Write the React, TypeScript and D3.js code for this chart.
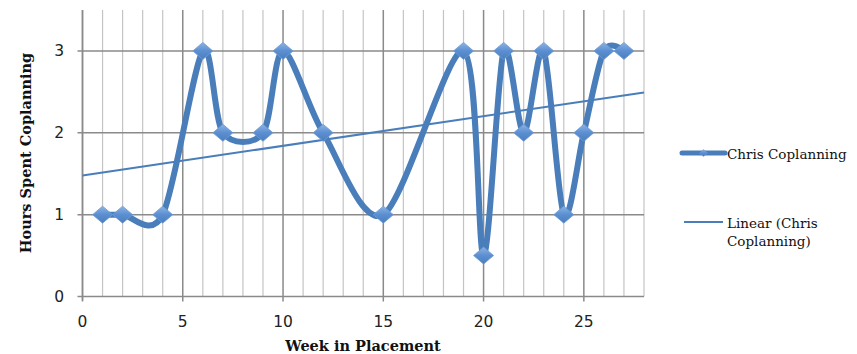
import React from "react";
import * as d3 from "d3";

const weeks = [1, 2, 4, 6, 7, 9, 10, 12, 15, 19, 20, 21, 22, 23, 24, 25, 26, 27];
const hours = [1, 1, 1, 3, 2, 2, 3, 2, 1, 3, 0.5, 3, 2, 3, 1, 2, 3, 3];
const xTicks = [0, 5, 10, 15, 20, 25];
const yTicks = [0, 1, 2, 3];
const seriesName = "Chris Coplanning";
const trendName1 = "Linear (Chris";
const trendName2 = "Coplanning)";

const W = 857;
const H = 354;
const left = 82.5;
const right = 644;
const top = 10;
const bottom = 296.5;
const blue = "#4a7ebb";

export default function App() {
  const x = d3.scaleLinear().domain([0, 28]).range([left, right]);
  const y = d3.scaleLinear().domain([0, 3.5]).range([bottom, top]);
  const pts: [number, number][] = weeks.map((w, i) => [w, hours[i]]);

  const line = d3
    .line<[number, number]>()
    .x((d) => x(d[0]))
    .y((d) => y(d[1]))
    .curve(d3.curveCardinal.tension(0.1));

  const n = weeks.length;
  const mx = d3.mean(weeks)!;
  const my = d3.mean(hours)!;
  let sxy = 0;
  let sxx = 0;
  for (let i = 0; i < n; i++) {
    sxy += (weeks[i] - mx) * (hours[i] - my);
    sxx += (weeks[i] - mx) ** 2;
  }
  const slope = sxy / sxx;
  const icpt = my - slope * mx;

  const minor = d3.range(0, 29);
  const diamond = (cx: number, cy: number, w: number, h: number) =>
    `M${cx},${cy - h / 2}L${cx + w / 2},${cy}L${cx},${cy + h / 2}L${cx - w / 2},${cy}Z`;

  const tickFont = "'DejaVu Sans', sans-serif";
  const serif = "'DejaVu Serif', serif";

  return (
    <svg width={W} height={H} style={{ position: "absolute", left: 0, top: 0, background: "#fff" }}>
      <defs>
        <linearGradient id="mk" x1="0" y1="0" x2="0" y2="1">
          <stop offset="0" stopColor="#8db3e2" />
          <stop offset="0.5" stopColor="#5b8fd2" />
          <stop offset="1" stopColor="#4a7ebb" />
        </linearGradient>
      </defs>
      {/* vertical grid */}
      {minor.map((v) => (
        <line
          key={"mv" + v}
          x1={x(v)}
          x2={x(v)}
          y1={top}
          y2={bottom}
          stroke={v % 5 === 0 ? "#8a8a8a" : "#c4c4c4"}
          strokeWidth={v % 5 === 0 ? 1.5 : 1.2}
        />
      ))}
      {/* horizontal grid */}
      {yTicks.map((v) => (
        <line key={"h" + v} x1={left - 5} x2={right} y1={y(v)} y2={y(v)} stroke="#8a8a8a" strokeWidth={1.5} />
      ))}
      {/* axes */}
      <line x1={left} x2={left} y1={top} y2={bottom + 4} stroke="#8a8a8a" strokeWidth={1.5} />
      {xTicks.map((v) => (
        <line key={"xt" + v} x1={x(v)} x2={x(v)} y1={bottom} y2={bottom + 5} stroke="#8a8a8a" strokeWidth={1.5} />
      ))}
      {/* tick labels */}
      {yTicks.map((v) => (
        <text key={"yl" + v} x={64} y={y(v) + 5.5} fontFamily={tickFont} fontSize={15.5} textAnchor="end" fill="#222">
          {v}
        </text>
      ))}
      {xTicks.map((v) => (
        <text key={"xl" + v} x={x(v)} y={327} fontFamily={tickFont} fontSize={15.5} textAnchor="middle" fill="#222">
          {v}
        </text>
      ))}
      {/* trend line */}
      <line x1={x(0)} x2={x(28)} y1={y(icpt)} y2={y(icpt + slope * 28)} stroke={blue} strokeWidth={2} />
      {/* series */}
      <path d={line(pts) || ""} fill="none" stroke={blue} strokeWidth={6} strokeLinejoin="round" />
      {pts.map((p, i) => (
        <path
          key={"m" + i}
          d={diamond(x(p[0]), y(p[1]), 20, 17)}
          fill="url(#mk)"
          stroke="#6f9bd4"
          strokeWidth={0.8}
        />
      ))}
      {/* axis titles */}
      <text x={363} y={351} textAnchor="middle" fontFamily={serif} fontWeight="bold" fontSize={14.5} fill="#111">
        Week in Placement
      </text>
      <text
        transform={`translate(31,${153}) rotate(-90)`}
        textAnchor="middle"
        fontFamily={serif}
        fontWeight="bold"
        fontSize={14.5}
        fill="#111"
      >
        Hours Spent Coplanning
      </text>
      {/* legend */}
      <line x1={682} x2={725} y1={153} y2={153} stroke={blue} strokeWidth={5} strokeLinecap="round" />
      <path d={diamond(703.5, 153, 8, 7)} fill="url(#mk)" stroke="#6f9bd4" strokeWidth={0.5} />
      <text x={727} y={159} fontFamily={serif} fontSize={13.5} fill="#111">
        {seriesName}
      </text>
      <line x1={684} x2={723} y1={222} y2={222} stroke={blue} strokeWidth={2} />
      <text x={727} y={228} fontFamily={serif} fontSize={13.5} fill="#111">
        {trendName1}
      </text>
      <text x={727} y={246} fontFamily={serif} fontSize={13.5} fill="#111">
        {trendName2}
      </text>
    </svg>
  );
}
